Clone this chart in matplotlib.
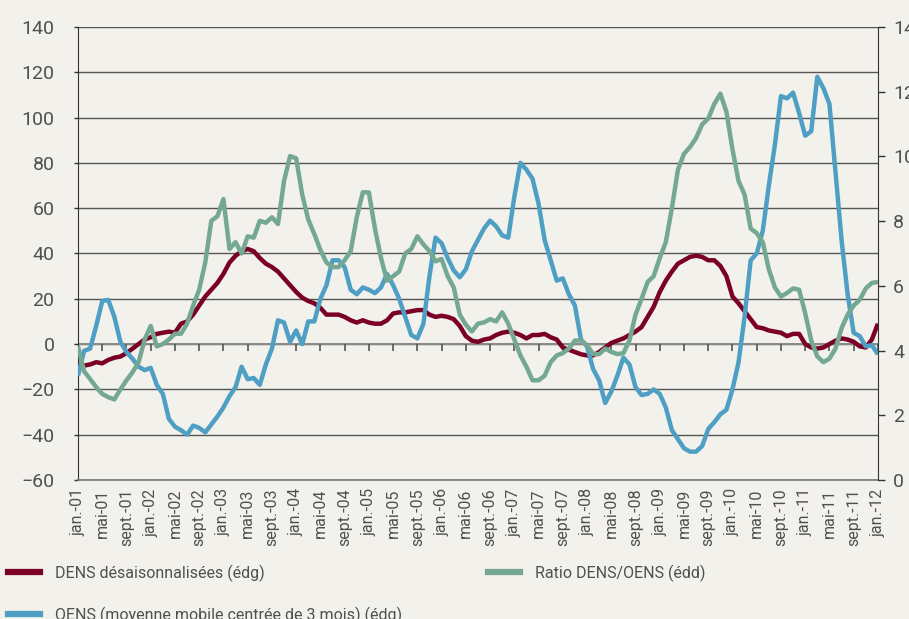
import matplotlib.pyplot as plt

plt.rcParams['font.family'] = ['Roboto', 'DejaVu Sans']

# Mois de janvier 2001 à janvier 2012 (133 points)
mois_noms = ['jan.', 'févr.', 'mars', 'avr.', 'mai', 'juin',
             'juil.', 'août', 'sept.', 'oct.', 'nov.', 'déc.']
annees = list(range(2001, 2013))

dens = [-9.5, -9.5, -9, -8, -8.5, -7, -6, -5.5, -4, -2, 0, 2, 3, 4.5, 5, 5.5,
        5, 9, 10, 13, 17, 21, 24, 27, 31, 36, 39, 41, 42, 41, 38, 35.5, 34, 32,
        29, 26, 23, 20.5, 19, 18, 16, 13, 13, 13, 12, 10.5, 9.5, 10.5, 9.5, 9,
        9, 10.5, 13.5, 14, 14, 14.5, 15, 15, 13, 12, 12.5, 12, 11, 8, 3.5, 1.5,
        1, 2, 2.5, 4, 5, 5.5, 5, 4, 2.5, 4, 4, 4.5, 3, 2, -1.5, -2.5, -3.5,
        -4.5, -5, -5, -3.5, -1.5, 0.5, 1.5, 2.5, 4, 5.5, 7.5, 12, 16.5, 23, 28,
        32, 35.5, 37, 38.5, 39, 38.5, 37, 37, 34.5, 30, 21, 18, 14.5, 11, 7.5,
        7, 6, 5.5, 5, 3.5, 4.5, 4.5, 0, -1.5, -2, -1.5, 0, 1.5, 2.5, 2, 1, -1,
        -1.5, 2, 9]

oens = [-14, -3, -2, 8, 19, 19.5, 12, 1, -3.5, -6.5, -10, -11.5, -10.5, -18,
        -22, -33, -36.5, -38, -40, -36, -37, -39, -35.5, -32, -28, -23, -19,
        -10, -15.5, -15, -18, -9, -2, 10.5, 9.5, 1, 6, 0, 10, 10, 20, 26, 37,
        37, 34, 24, 22, 25, 24, 22.5, 25, 31, 26, 20, 12, 4, 2.5, 9, 30, 47,
        44.5, 38, 32.5, 29.5, 33, 41, 46, 51, 54.5, 52, 48, 47, 65, 80, 77, 73,
        62, 46, 37, 28, 29, 22, 17, 2, -1, -11, -16, -26, -21, -14, -6, -9,
        -19, -22.5, -22, -20, -22, -28, -38, -42, -46, -47.5, -47.5, -45,
        -37.5, -34.5, -31, -29, -20, -8, 12, 37, 40, 50, 70, 88, 109.5, 108.5,
        111, 102, 92, 94, 118, 113, 106, 76, 46, 22, 5, 3.5, -1, -0.5, -4.5]

ratio = [4.13, 3.36, 3.12, 2.87, 2.66, 2.56, 2.49, 2.80, 3.08, 3.33, 3.64,
         4.34, 4.76, 4.13, 4.20, 4.34, 4.52, 4.52, 4.83, 5.39, 5.88, 6.72,
         8.01, 8.15, 8.68, 7.14, 7.35, 7.00, 7.53, 7.49, 8.01, 7.95, 8.12,
         7.91, 9.24, 10.01, 9.94, 8.82, 8.05, 7.60, 7.11, 6.72, 6.58, 6.58,
         6.79, 7.07, 8.12, 8.89, 8.89, 7.77, 6.86, 6.16, 6.30, 6.44, 7.00,
         7.14, 7.53, 7.28, 7.07, 6.76, 6.83, 6.30, 5.95, 5.11, 4.80, 4.59,
         4.83, 4.87, 4.97, 4.90, 5.18, 4.83, 4.34, 3.85, 3.50, 3.08, 3.08,
         3.22, 3.64, 3.85, 3.92, 4.06, 4.31, 4.31, 4.17, 3.89, 3.89, 4.06,
         3.96, 3.89, 3.92, 4.31, 5.11, 5.60, 6.12, 6.30, 6.86, 7.35, 8.40,
         9.59, 10.08, 10.29, 10.57, 10.99, 11.17, 11.62, 11.94, 11.38, 10.22,
         9.24, 8.82, 7.77, 7.63, 7.35, 6.51, 5.95, 5.67, 5.78, 5.92, 5.88,
         5.15, 4.31, 3.82, 3.64, 3.75, 4.06, 4.69, 5.11, 5.39, 5.57, 5.92,
         6.09, 6.12]

x = list(range(len(dens)))
# étiquettes tous les 4 mois : jan., mai, sept.
ticks_x = list(range(0, len(dens), 4))
labels_x = [f"{mois_noms[i % 12]}-{str(annees[i // 12])[2:]}" for i in ticks_x]

rouge = '#7a0026'
bleu = '#4f9fc4'
vert = '#74a893'
fond = '#f2f1eb'
gris_texte = '#505050'

fig = plt.figure(figsize=(9.09, 6.19), dpi=100, facecolor=fond)
ax = fig.add_axes([0.0858, 0.2246, 0.880, 0.7318])
ax.set_facecolor(fond)
ax2 = ax.twinx()

# Séries
ax.plot(x, dens, color=rouge, lw=3.2, solid_capstyle='butt', zorder=3)
ax.plot(x, oens, color=bleu, lw=3.2, solid_capstyle='butt', zorder=3)
ax2.plot(x, ratio, color=vert, lw=3.2, solid_capstyle='butt')

# Axe de gauche
ax.set_ylim(-60, 140)
ax.set_yticks(range(-60, 141, 20))
ax.set_xlim(0, 132)
ax.grid(axis='y', color='#555555', lw=1.0)
ax.set_axisbelow(True)
ax.axhline(0, color='#8a8a8a', lw=1.4, zorder=2)
# petites graduations sur l'axe du zéro
ax.plot(ticks_x, [0] * len(ticks_x), ls='', marker=3, ms=5, mew=1.2,
        color='#555555', zorder=2)

ax.set_xticks(ticks_x)
ax.set_xticklabels(labels_x, rotation=90, fontsize=11.5, color=gris_texte)
ax.tick_params(axis='x', length=0, pad=6)
ax.tick_params(axis='y', length=3, width=1, color='#333333', pad=14,
               labelsize=14, labelcolor=gris_texte)

ax.spines['top'].set_visible(False)
ax.spines['right'].set_visible(False)
ax.spines['left'].set_color('#333333')
ax.spines['bottom'].set_color('#777777')
ax.spines['bottom'].set_linewidth(1.2)

# Axe de droite
ax2.set_ylim(0, 14)
ax2.set_yticks(range(0, 15, 2))
ax2.tick_params(axis='y', length=5, width=1, color='#333333', pad=6,
                labelsize=14, labelcolor=gris_texte)
for s in ['top', 'left', 'bottom']:
    ax2.spines[s].set_visible(False)
ax2.spines['right'].set_color('#333333')

# Légende
h_dens, = ax.plot([], [], color=rouge, lw=4.5)
h_oens, = ax.plot([], [], color=bleu, lw=4.5)
h_ratio, = ax.plot([], [], color=vert, lw=4.5)
leg_kw = dict(frameon=False, fontsize=11.5, handlelength=2.0,
              handletextpad=0.95, labelcolor=gris_texte, labelspacing=1.55,
              borderaxespad=0, borderpad=0, loc='upper left')
fig.legend([h_dens, h_oens],
           ['DENS désaisonnalisées (édg)',
            'OENS (moyenne mobile centrée de 3 mois) (édg)'],
           bbox_to_anchor=(0.009, 0.088), **leg_kw)
fig.legend([h_ratio], ['Ratio DENS/OENS (édd)'],
           bbox_to_anchor=(0.537, 0.088), **leg_kw)

fig.savefig('out.png', dpi=100, facecolor=fond)
